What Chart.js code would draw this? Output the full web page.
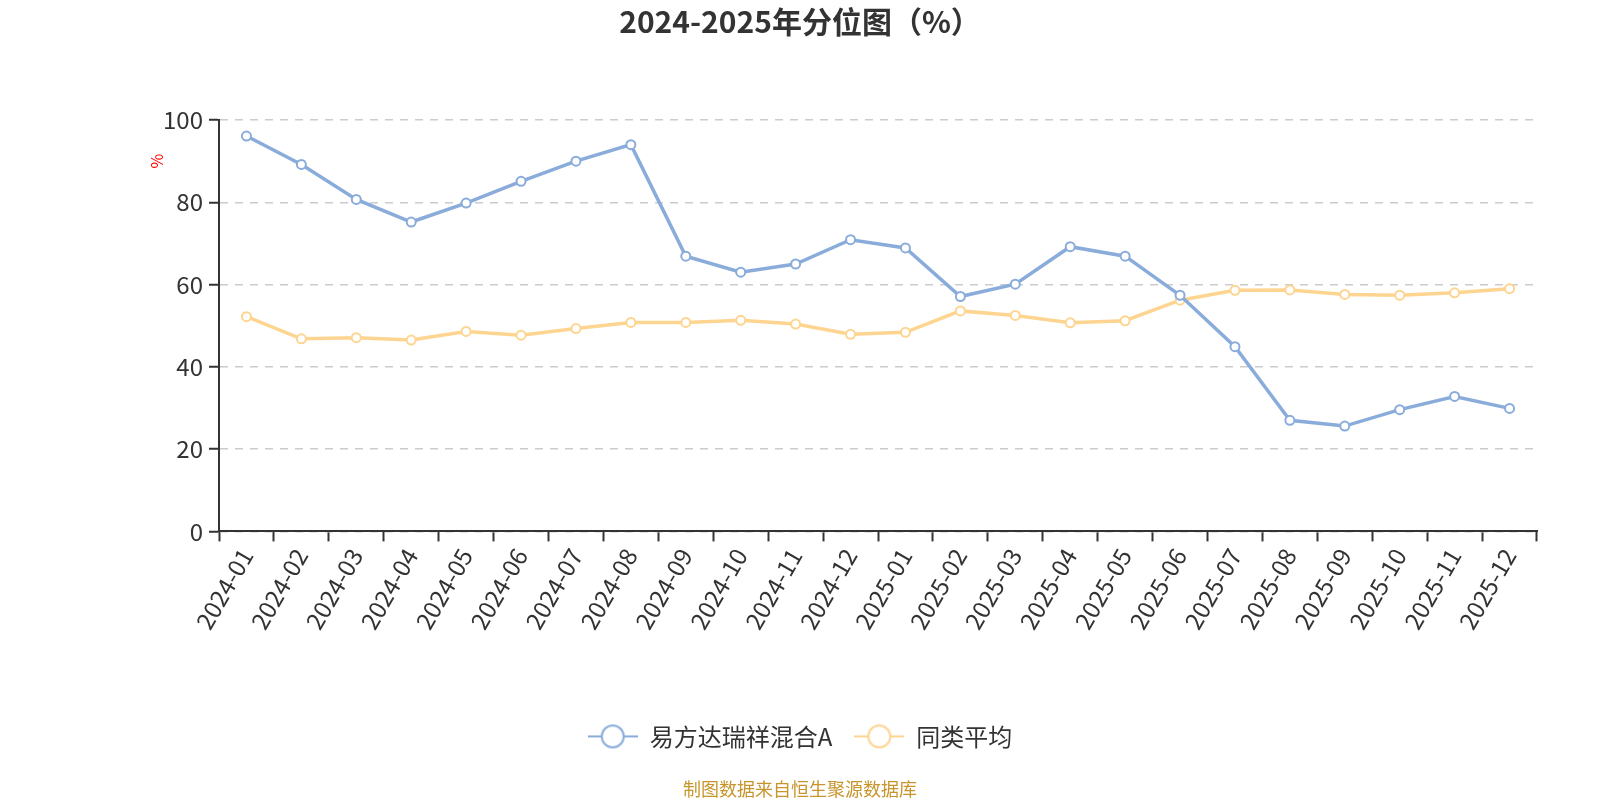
<!DOCTYPE html>
<html>
<head>
<meta charset="utf-8">
<script src="https://cdn.jsdelivr.net/npm/chart.js@4.4.0/dist/chart.umd.min.js"></script>
<style>
  html, body { margin: 0; padding: 0; background: #fff; }
  #wrap { width: 1600px; height: 800px; position: relative; }
</style>
</head>
<body>
<div id="wrap"><canvas id="c" width="1600" height="800"></canvas></div>
<script>
const titleText = '2024-2025年分位图（%）';
const categories = ['2024-01','2024-02','2024-03','2024-04','2024-05','2024-06','2024-07','2024-08','2024-09','2024-10','2024-11','2024-12',
                    '2025-01','2025-02','2025-03','2025-04','2025-05','2025-06','2025-07','2025-08','2025-09','2025-10','2025-11','2025-12'];
const fundName = '易方达瑞祥混合A';
const fundValues = [96.1, 89.2, 80.7, 75.2, 79.8, 85.1, 90.0, 94.0, 66.9, 63.0, 65.0, 70.9,
                    68.9, 57.1, 60.1, 69.2, 66.9, 57.4, 44.9, 27.0, 25.6, 29.6, 32.8, 29.9];
const avgName = '同类平均';
const avgValues = [52.2, 46.8, 47.1, 46.5, 48.6, 47.7, 49.3, 50.8, 50.8, 51.3, 50.4, 47.9,
                   48.4, 53.6, 52.5, 50.7, 51.2, 56.2, 58.6, 58.7, 57.6, 57.4, 58.0, 59.0];
const yTicks = [0, 20, 40, 60, 80, 100];
const yUnit = '%';
const footerText = '制图数据来自恒生聚源数据库';

const BLUE = '#8aacdb';
const ORANGE = '#fdd590';
const FONT = '"Noto Sans CJK SC", "Noto Sans", sans-serif';

function legendIcon(color) {
  const c = document.createElement('canvas');
  c.width = 50; c.height = 28;
  const g = c.getContext('2d');
  g.strokeStyle = color;
  g.lineWidth = 2;
  g.beginPath(); g.moveTo(0, 14); g.lineTo(50, 14); g.stroke();
  g.fillStyle = '#fff';
  g.beginPath(); g.arc(25, 14, 11, 0, Math.PI * 2); g.fill(); g.stroke();
  return c;
}
const icons = [legendIcon(BLUE), legendIcon(ORANGE)];

const extraText = {
  id: 'extraText',
  afterDraw(chart) {
    const ctx = chart.ctx;
    const y = chart.scales.y;
    ctx.save();
    ctx.fillStyle = '#ff0000';
    ctx.font = '16px ' + FONT;
    ctx.textAlign = 'center';
    ctx.textBaseline = 'middle';
    ctx.translate(chart.chartArea.left - 62, y.getPixelForValue(90));
    ctx.rotate(-Math.PI / 2);
    ctx.fillText(yUnit, 0, 0);
    ctx.restore();
  }
};

new Chart(document.getElementById('c'), {
  type: 'line',
  data: {
    labels: categories,
    datasets: [
      { label: fundName, data: fundValues, borderColor: BLUE, backgroundColor: '#fff',
        borderWidth: 3.5, pointRadius: 4.5, pointBorderWidth: 2, pointBackgroundColor: '#fff',
        pointBorderColor: BLUE, tension: 0 },
      { label: avgName, data: avgValues, borderColor: ORANGE, backgroundColor: '#fff',
        borderWidth: 3.5, pointRadius: 4.5, pointBorderWidth: 2, pointBackgroundColor: '#fff',
        pointBorderColor: ORANGE, tension: 0 }
    ]
  },
  options: {
    responsive: false,
    animation: false,
    devicePixelRatio: 1,
    layout: { padding: { left: 63, right: 63, top: 0, bottom: 0 } },
    plugins: {
      title: {
        display: true, text: titleText, color: '#333',
        font: { family: FONT, size: 30, weight: 'bold' },
        padding: { top: 4, bottom: 80 }
      },
      subtitle: {
        display: true, position: 'bottom', text: footerText, color: '#c8952c',
        font: { family: FONT, size: 18, weight: 'normal' },
        padding: { top: 20, bottom: 0 }
      },
      legend: {
        display: true, position: 'bottom',
        labels: {
          usePointStyle: true, pointStyleWidth: 50, padding: 22,
          color: '#333', font: { family: FONT, size: 24 },
          generateLabels(chart) {
            return chart.data.datasets.map((ds, i) => ({
              text: ds.label, pointStyle: icons[i], fillStyle: '#fff',
              strokeStyle: ds.borderColor, lineWidth: 2, hidden: false, datasetIndex: i,
              fontColor: '#333'
            }));
          }
        }
      },
      tooltip: { enabled: false }
    },
    scales: {
      x: {
        type: 'category',
        offset: true,
        grid: { display: true, drawOnChartArea: false, drawTicks: true, tickLength: 10,
                tickColor: '#333', tickWidth: 2, offset: true },
        border: { display: true, color: '#333', width: 2 },
        ticks: { color: '#333', font: { family: FONT, size: 24 }, minRotation: 60, maxRotation: 60,
                 autoSkip: false, padding: 2 },
        afterFit(scale) { scale.height = 171; }
      },
      y: {
        min: 0, max: 100,
        afterBuildTicks(scale) { scale.ticks = yTicks.map(v => ({ value: v })); },
        grid: { display: true, color: '#cccccc', lineWidth: 1.5, drawTicks: true, tickLength: 10,
                tickColor: '#333', tickWidth: 2 },
        border: { display: true, color: '#333', width: 2, dash: [8, 7] },
        ticks: { color: '#333', font: { family: FONT, size: 24 }, padding: 6 },
        afterFit(scale) { scale.width = 156; }
      }
    }
  },
  plugins: [extraText]
});
</script>
</body>
</html>
